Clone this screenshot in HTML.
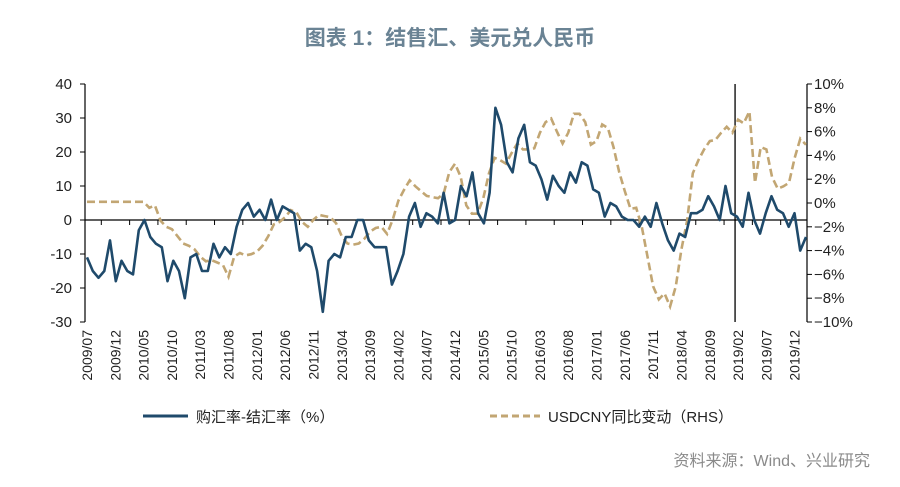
<!DOCTYPE html>
<html><head><meta charset="utf-8"><style>
body{margin:0;background:#fff;}
svg{display:block;font-family:"Liberation Sans","Noto Sans CJK SC",sans-serif;}
</style></head><body>
<svg id="chart" width="900" height="487" viewBox="0 0 900 487" xmlns="http://www.w3.org/2000/svg">
<text x="450" y="45" text-anchor="middle" font-size="21" font-weight="bold" fill="#6a8394">图表 1：结售汇、美元兑人民币</text>
<g id="axes"></g><g id="series"></g>
<g>
<line x1="143" y1="416" x2="188" y2="416" stroke="#1f4a6b" stroke-width="3"/>
<text x="196" y="422" font-size="15" fill="#222">购汇率-结汇率（%）</text>
<line x1="490" y1="416" x2="540" y2="416" stroke="#c2a673" stroke-width="3" stroke-dasharray="7,4"/>
<text x="548" y="422" font-size="15" fill="#222">USDCNY同比变动（RHS）</text>
</g>
<text x="870" y="466" text-anchor="end" font-size="16" fill="#8a8a8a">资料来源：Wind、兴业研究</text>
</svg>
<script>
const netFx=[-11,-15,-17,-15,-6,-18,-12,-15,-16,-3,0,-5,-7,-8,-18,-12,-15,-23,-11,-10,-15,-15,-7,-11,-8,-10,-2,3,5,1,3,0,6,0,4,3,2,-9,-7,-8,-15,-27,-12,-10,-11,-5,-5,0,0,-6,-8,-8,-8,-19,-15,-10,1,5,-2,2,1,-1,8,-1,0,10,7,
14,2,-1,8,33,28,17,14,24,28,17,16,12,6,13,10,8,14,11,17,16,9,8,1,5,4,1,0,0,-2,1,-2,5,-1,-6,-9,-4,-5,2,2,3,7,4,0,10,2,1,-2,8,0,-4,2,7,3,2,-2,2,-9,-5];
const usdcny=[0.1,0.1,0.1,0.1,0.1,0.1,0.1,0.1,0.1,0.1,0.1,-0.4,-0.2,-1.5,-2,-2.2,-2.8,-3.4,-3.6,-3.9,-4.5,-4.9,-4.8,-5,-5.2,-6.2,-4.5,-4.2,-4.4,-4.3,-4.1,-3.6,-2.8,-1.8,-1.6,-1.2,-0.6,-0.8,-1.6,-2,-1.4,-1,-1.1,-1.2,-1.7,-2.8,-3.4,-3.5,-3.4,-3,-2.4,-2.1,-2,-2.6,-1.4,0.2,1.1,1.9,1.4,1,0.6,0.5,0.4,0.8,2.6,3.3,2.2,
-0.2,-0.9,-0.9,0.4,2.5,3.8,3.6,3.3,4.2,5,4.5,4.5,4.6,5.9,6.8,7.1,6,5,5.9,7.5,7.5,6.8,4.9,5.2,6.6,6.3,4.7,2.6,1,-0.5,-0.4,-2,-4.5,-7,-8.1,-7.6,-8.7,-7,-3.9,-1.5,2.5,3.6,4.5,5.2,5.3,5.9,6.4,5.9,7,6.7,7.7,1.7,4.7,4.5,2.2,1.2,1.4,1.7,3.8,5.4,4.9];
const leftTicks=[40,30,20,10,0,-10,-20,-30];
const rightTicks=[10,8,6,4,2,0,-2,-4,-6,-8,-10];
const xLabels=[];
for(let y=2009,m=7;xLabels.length<26;){xLabels.push(y+'/'+String(m).padStart(2,'0'));m+=5;if(m>12){m-=12;y++;}}
const NS='http://www.w3.org/2000/svg';
const X0=87,X1=806,NM=128,T=84,B=322;
const xm=i=>X0+i*(X1-X0)/(NM-1);
const yl=v=>T+(40-v)*(B-T)/70;
const yr=v=>T+(10-v)*(B-T)/20;
function mk(tag,at,p){const e=document.createElementNS(NS,tag);for(const k in at)e.setAttribute(k,at[k]);p.appendChild(e);return e;}
const ax=document.getElementById('axes'),se=document.getElementById('series');
let e=mk('line',{x1:85,y1:T,x2:85,y2:B,stroke:'#000','stroke-width':1.2},ax);


e=mk('line',{x1:807,y1:T,x2:807,y2:B,stroke:'#000','stroke-width':1.2},ax);


leftTicks.forEach(v=>{mk('line',{x1:80,x2:85,y1:yl(v),y2:yl(v),stroke:'#000'},ax);
 const t=mk('text',{x:72,y:yl(v)+5,'text-anchor':'end','font-size':15,fill:'#222'},ax);t.textContent=v;
 
 });
rightTicks.forEach(v=>{mk('line',{x1:807,x2:812,y1:yr(v),y2:yr(v),stroke:'#000'},ax);
 const t=mk('text',{x:814,y:yr(v)+5,'font-size':15,fill:'#222'},ax);t.textContent=(v<0?'−':'')+Math.abs(v)+'%';
 
 });
e=mk('line',{x1:85,y1:yl(0),x2:807,y2:yl(0),stroke:'#000','stroke-width':1.2},ax);


xLabels.forEach((l,k)=>{const x=xm(k*5);
 if(k>0)mk('line',{x1:x-14,x2:x-14,y1:yl(0),y2:yl(0)+5,stroke:'#000'},ax);
 const t=mk('text',{x:0,y:0,'text-anchor':'end','font-size':14,fill:'#222',transform:`translate(${x+5},330) rotate(-90)`},ax);t.textContent=l;
 
 });
e=mk('line',{x1:xm(115)-3,x2:xm(115)-3,y1:T,y2:B,stroke:'#000','stroke-width':1.3},ax);


function path(arr,f){return arr.map((v,i)=>(i?'L':'M')+(X0+i*(X1-X0)/(arr.length-1)).toFixed(1)+','+f(v).toFixed(1)).join('');}
e=mk('path',{d:path(usdcny,yr),fill:'none',stroke:'#c2a673','stroke-width':2.6,'stroke-dasharray':'8,4'},se);


e=mk('path',{d:path(netFx,yl),fill:'none',stroke:'#1f4a6b','stroke-width':2.6,'stroke-linejoin':'round'},se);


</script>
</body></html>
